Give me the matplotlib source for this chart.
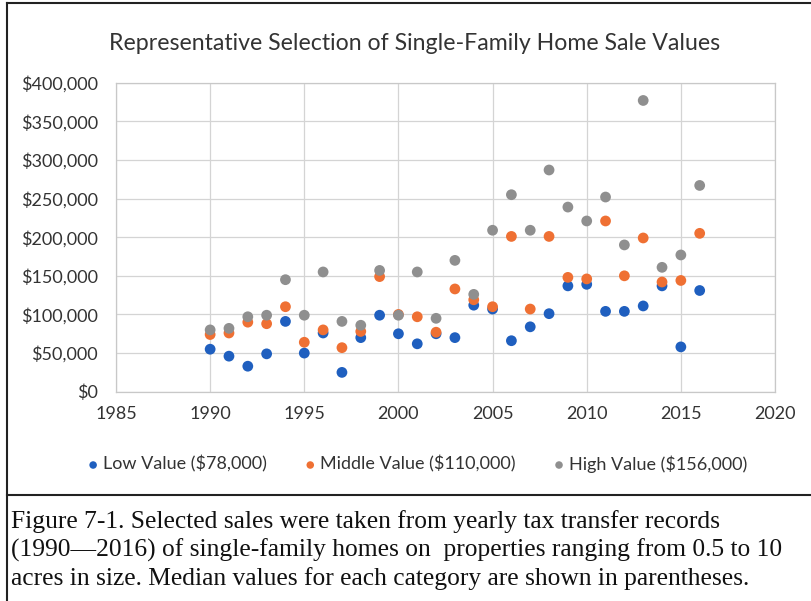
import matplotlib.pyplot as plt
from matplotlib.lines import Line2D
from matplotlib.ticker import FuncFormatter, MultipleLocator

# data
years = list(range(1990, 2017))
low = [55, 46, 33, 49, 91, 50, 76, 25, 70, 99, 75, 62, 75, 70, 112,
       107, 66, 84, 101, 137, 139, 104, 104, 111, 137, 58, 131]
middle = [74, 76, 90, 88, 110, 64, 80, 57, 78, 149, 100, 97, 77, 133, 119,
          110, 201, 107, 201, 148, 146, 221, 150, 199, 142, 144, 205]
high = [80, 82, 97, 99, 145, 99, 155, 91, 86, 157, 99, 155, 95, 170, 126,
        209, 255, 209, 287, 239, 221, 252, 190, 377, 161, 177, 267]

series_names = ["Low Value ($78,000)", "Middle Value ($110,000)", "High Value ($156,000)"]
colors = ["#1f5fbf", "#ef7033", "#8f8f8f"]

caption = ("Figure 7-1. Selected sales were taken from yearly tax transfer records\n"
           "(1990\u20142016) of single-family homes on  properties ranging from 0.5 to 10\n"
           "acres in size. Median values for each category are shown in parentheses.")

W, H = 812, 601
fig = plt.figure(figsize=(W / 100, H / 100), dpi=100)
ax = fig.add_axes([116 / W, 1 - 391.7 / H, (775 - 116) / W, (391.7 - 82.7) / H])

for vals, name, c in zip([low, middle, high], series_names, colors):
    ax.scatter(years, [v * 1000 for v in vals], s=60, color=c, label=name,
               edgecolors="none", zorder=3)

ax.set_xlim(1985, 2020)
ax.set_ylim(0, 400000)
ax.xaxis.set_major_locator(MultipleLocator(5))
ax.yaxis.set_major_locator(MultipleLocator(50000))
ax.yaxis.set_major_formatter(FuncFormatter(lambda v, p: "${:,.0f}".format(v)))
ax.grid(True, color="#d4d4d4", linewidth=0.9)
ax.set_axisbelow(True)
for sp in ax.spines.values():
    sp.set_color("#c8c8c8")
    sp.set_linewidth(0.9)
ax.tick_params(length=0, labelsize=13, colors="#333333")
ax.tick_params(axis="y", pad=13)
ax.tick_params(axis="x", pad=10)
for lab in ax.get_xticklabels() + ax.get_yticklabels():
    lab.set_family("Lato")

fig.text(0.511, 1 - 43 / H, "Representative Selection of Single-Family Home Sale Values",
         ha="center", va="center", fontsize=16.7, family="Lato", color="#333333")

fig.legend(loc="center", bbox_to_anchor=(0.513, 1 - 464 / H), ncol=3, frameon=False,
           prop={"family": "Lato", "size": 13}, handlelength=0.8, handletextpad=0.15,
           columnspacing=2.0, markerscale=0.7, labelcolor="#333333")

# frame lines of the scanned figure box
fig.add_artist(Line2D([7 / W, 1], [1 - 3 / H, 1 - 3 / H], color="#222222", lw=1.5))
fig.add_artist(Line2D([7 / W, 7 / W], [1 - 3 / H, 0], color="#222222", lw=1.5))
fig.add_artist(Line2D([7 / W, 1], [1 - 495 / H, 1 - 495 / H], color="#222222", lw=1.5))

fig.text(11 / W, 1 - 510 / H, caption, ha="left", va="top", fontsize=18.4,
         family="Liberation Serif", linespacing=1.3, color="#111111")

fig.savefig("out.png", dpi=100)
